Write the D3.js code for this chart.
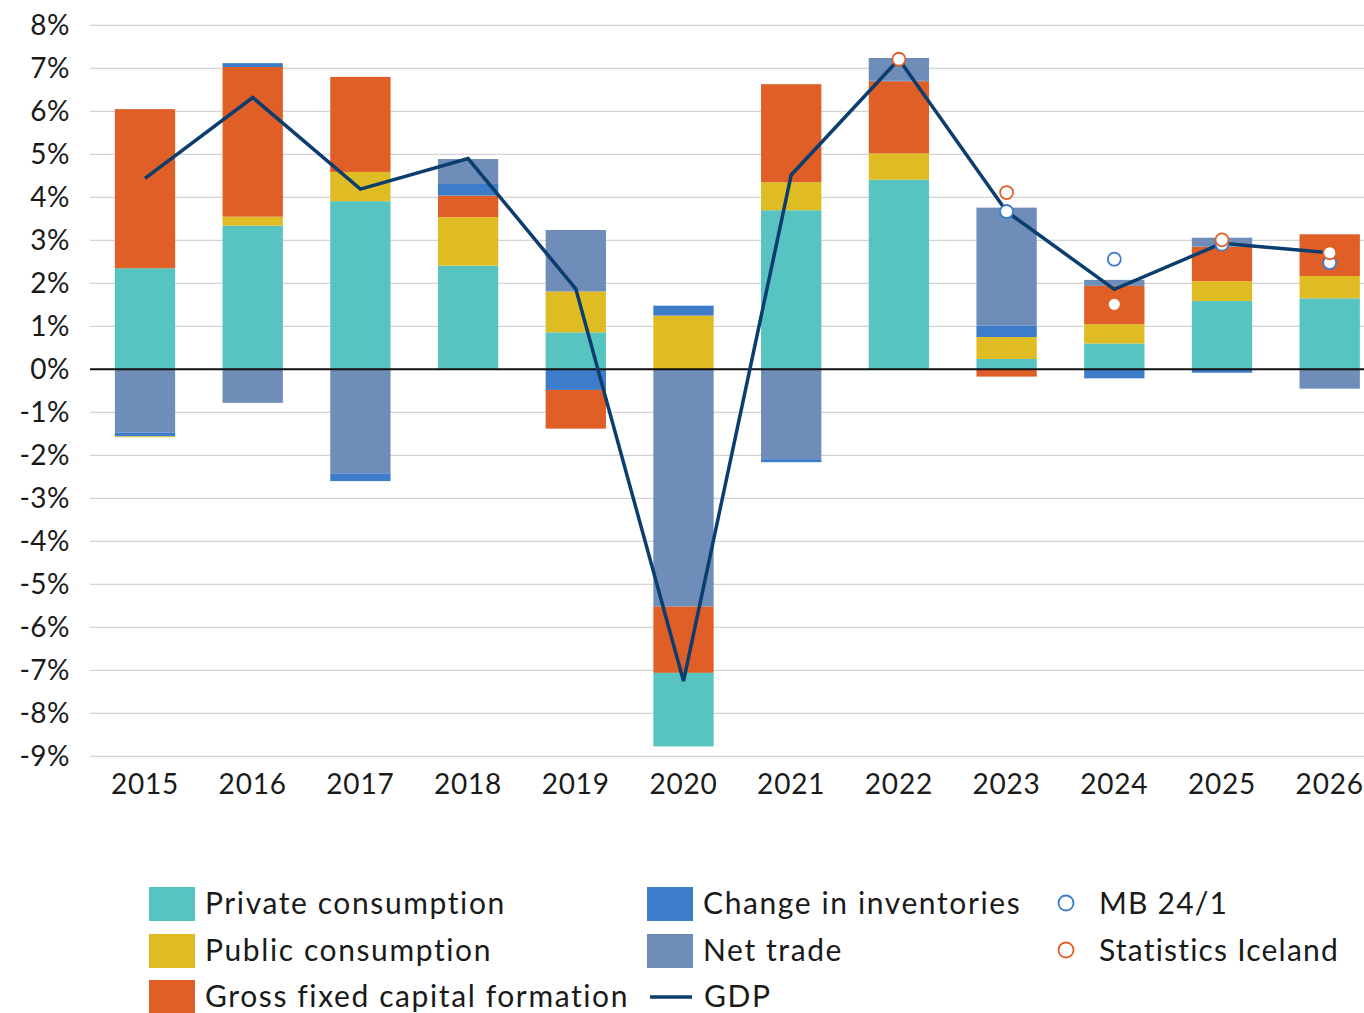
<!DOCTYPE html>
<html>
<head>
    <meta charset="utf-8">
    <script src="https://cdn.jsdelivr.net/npm/d3@7"></script>
    <style>
        body { margin: 0; background: #fff; }
        #chart text { font-family: Lato, "Open Sans", sans-serif; fill: #1a1a1a; }
    </style>
</head>
<body>
<svg id="chart" width="1364" height="1013"></svg>
<script>
    // data (percentage points)
    var years = ["2015","2016","2017","2018","2019","2020","2021","2022","2023","2024","2025","2026"];
    var privateCons = [2.35, 3.34, 3.91, 2.41, 0.86, -1.71, 3.70, 4.41, 0.24, 0.60, 1.59, 1.65];
    var publicCons  = [-0.02, 0.21, 0.68, 1.13, 0.95, 1.25, 0.65, 0.61, 0.51, 0.45, 0.46, 0.52];
    var gfcf        = [3.70, 3.48, 2.21, 0.50, -0.90, -1.54, 2.28, 1.68, -0.17, 0.89, 0.80, 0.97];
    var inventories = [-0.09, 0.09, -0.18, 0.27, -0.48, 0.23, -0.07, 0.02, 0.27, -0.21, -0.08, 0.00];
    var netTrade    = [-1.47, -0.78, -2.42, 0.58, 1.43, -5.52, -2.09, 0.52, 2.74, 0.14, 0.21, -0.45];
    var gdp         = [4.44, 6.32, 4.19, 4.90, 1.87, -7.25, 4.52, 7.21, 3.67, 1.86, 2.93, 2.71];
    var mb241       = [null, null, null, null, null, null, null, null, 3.67, 2.56, 2.91, 2.48];
    var statIceland = [null, null, null, null, null, null, null, 7.21, 4.11, 1.51, 3.01, 2.71];
    var yTicks = [8,7,6,5,4,3,2,1,0,-1,-2,-3,-4,-5,-6,-7,-8,-9];

    var series = [
        {name: "Private consumption", values: privateCons, color: "#57c4c2"},
        {name: "Public consumption", values: publicCons, color: "#dfbc24"},
        {name: "Gross fixed capital formation", values: gfcf, color: "#df5f27"},
        {name: "Change in inventories", values: inventories, color: "#3d7cc9"},
        {name: "Net trade", values: netTrade, color: "#6e8db8"}
    ];
    var gdpColor = "#0b3d6e";

    var svg = d3.select("#chart");

    var x = d3.scaleBand()
        .domain(years)
        .range([91.15, 1383.55])
        .paddingInner(0.44)
        .paddingOuter(0.22);
    var y = d3.scaleLinear()
        .domain([-9, 8])
        .range([756.3, 25.3]);

    //gridlines
    svg.append("g").selectAll("line")
        .data(yTicks.filter(d => d != 0))
        .enter().append("line")
        .attr("x1", 90).attr("x2", 1364)
        .attr("y1", d => y(d)).attr("y2", d => y(d))
        .attr("stroke", "#d3d3d3")
        .attr("stroke-width", 1.3);

    //y labels
    svg.append("g").selectAll("text")
        .data(yTicks)
        .enter().append("text")
        .attr("x", 70)
        .attr("y", d => y(d))
        .attr("dy", "0.36em")
        .attr("text-anchor", "end")
        .style("font-size", "28px")
        .style("letter-spacing", "0.5px")
        .text(d => d + "%");

    //stacking: positives bottom-up in series order, negatives downward in reverse order
    var rects = [];
    years.forEach(function (yr, i) {
        var pos = 0;
        series.forEach(function (s) {
            var v = s.values[i];
            if (v > 0) { rects.push({year: yr, y0: pos, y1: pos + v, color: s.color}); pos += v; }
        });
        var neg = 0;
        series.slice().reverse().forEach(function (s) {
            var v = s.values[i];
            if (v < 0) { rects.push({year: yr, y0: neg + v, y1: neg, color: s.color}); neg += v; }
        });
    });

    svg.append("g").selectAll("rect")
        .data(rects)
        .enter().append("rect")
        .attr("x", d => x(d.year))
        .attr("width", x.bandwidth())
        .attr("y", d => y(d.y1))
        .attr("height", d => y(d.y0) - y(d.y1))
        .attr("fill", d => d.color);

    //zero line
    svg.append("line")
        .attr("x1", 90).attr("x2", 1364)
        .attr("y1", y(0)).attr("y2", y(0))
        .attr("stroke", "#111")
        .attr("stroke-width", 2);

    //x labels
    svg.append("g").selectAll("text")
        .data(years)
        .enter().append("text")
        .attr("x", d => x(d) + x.bandwidth() / 2)
        .attr("y", 784)
        .attr("dy", "0.36em")
        .attr("text-anchor", "middle")
        .style("font-size", "28px")
        .style("letter-spacing", "0.8px")
        .text(d => d);

    //GDP line
    var line = d3.line()
        .x((d, i) => x(years[i]) + x.bandwidth() / 2)
        .y(d => y(d));
    svg.append("path")
        .datum(gdp)
        .attr("d", line)
        .attr("fill", "none")
        .attr("stroke", gdpColor)
        .attr("stroke-width", 3.5)
        .attr("stroke-linejoin", "miter");

    //forecast markers
    function markers(vals, color) {
        svg.append("g").selectAll("circle")
            .data(vals.map((v, i) => ({v: v, yr: years[i]})).filter(d => d.v != null))
            .enter().append("circle")
            .attr("cx", d => x(d.yr) + x.bandwidth() / 2)
            .attr("cy", d => y(d.v))
            .attr("r", 6.5)
            .attr("fill", "#fff")
            .attr("stroke", color)
            .attr("stroke-width", 1.8);
    }
    markers(mb241, "#3d7cc9");
    markers(statIceland, "#df5f27");

    //legend
    var lg = svg.append("g");
    var legendBoxes = [
        {s: series[0], x: 149, y: 903},
        {s: series[1], x: 149, y: 950},
        {s: series[2], x: 149, y: 996},
        {s: series[3], x: 647, y: 903},
        {s: series[4], x: 647, y: 950}
    ];
    legendBoxes.forEach(function (d) {
        lg.append("rect")
            .attr("x", d.x).attr("y", d.y - 16)
            .attr("width", 46).attr("height", 34)
            .attr("fill", d.s.color);
        lg.append("text")
            .attr("x", d.x + 56).attr("y", d.y)
            .attr("dy", "0.36em")
            .style("font-size", "30px")
            .style("letter-spacing", "1.6px")
            .text(d.s.name);
    });
    lg.append("line")
        .attr("x1", 650).attr("x2", 692)
        .attr("y1", 997).attr("y2", 997)
        .attr("stroke", gdpColor).attr("stroke-width", 3.5);
    lg.append("text")
        .attr("x", 704).attr("y", 996).attr("dy", "0.36em")
        .style("font-size", "30px")
        .style("letter-spacing", "1.6px")
        .text("GDP");

    var circleLegend = [
        {name: "MB 24/1", color: "#3d7cc9", y: 903},
        {name: "Statistics Iceland", color: "#df5f27", y: 950}
    ];
    circleLegend.forEach(function (d) {
        lg.append("circle")
            .attr("cx", 1066).attr("cy", d.y)
            .attr("r", 7.5)
            .attr("fill", "#fff")
            .attr("stroke", d.color).attr("stroke-width", 1.8);
        lg.append("text")
            .attr("x", 1099).attr("y", d.y).attr("dy", "0.36em")
            .style("font-size", "30px")
            .style("letter-spacing", "1.2px")
            .text(d.name);
    });
</script>
</body>
</html>
